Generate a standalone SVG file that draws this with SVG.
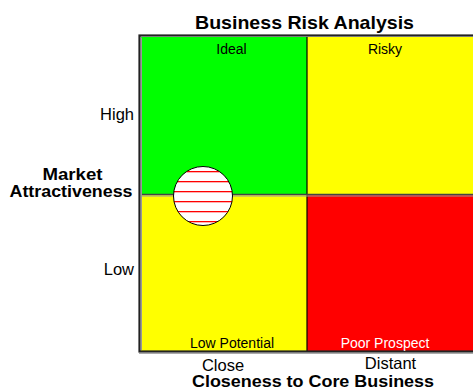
<svg xmlns="http://www.w3.org/2000/svg" width="473" height="390" viewBox="0 0 473 390">
<style>
text{font-family:"Liberation Sans",Arial,sans-serif;fill:#000}
.b{font-weight:bold}
.q{font-size:14px;text-anchor:middle}
.ax{font-size:16.5px}
.st{fill:#ff0000}
</style>
<defs>
<clipPath id="cc"><circle cx="203" cy="196" r="29.5"/></clipPath>
</defs>
<rect width="473" height="390" fill="#fff"/>
<text class="b" x="304.5" y="29" font-size="19" text-anchor="middle" textLength="219" lengthAdjust="spacingAndGlyphs">Business Risk Analysis</text>
<g id="frame">
<rect x="141" y="37" width="166" height="158" fill="#00ff00"/>
<rect x="307" y="37" width="170" height="158" fill="#ffff00"/>
<rect x="141" y="195" width="166" height="156" fill="#ffff00"/>
<rect x="307" y="195" width="170" height="156" fill="#ff0000"/>
<line x1="307" y1="37" x2="307" y2="351" stroke="#000" stroke-width="1.2"/>
<line x1="141" y1="194.5" x2="477" y2="194.5" stroke="#444" stroke-width="1.6"/>
<line x1="141" y1="196" x2="477" y2="196" stroke="#999" stroke-width="1"/>
<rect x="139.5" y="35.5" width="340" height="316" fill="none" stroke="#222" stroke-width="2.2"/>
<line x1="141.5" y1="37.5" x2="141.5" y2="350" stroke="#999" stroke-width="1"/>
<line x1="139" y1="353.5" x2="477" y2="353.5" stroke="#aaa" stroke-width="1"/>
</g>
<g id="ideal"><text class="q" x="231.5" y="54">Ideal</text></g>
<g id="risky"><text class="q" x="385" y="54">Risky</text></g>
<g id="low-potential"><text class="q" x="232" y="348">Low Potential</text></g>
<g id="poor-prospect"><text class="q" x="385" y="348" style="fill:#fff">Poor Prospect</text></g>
<g id="marker">
<circle cx="203" cy="196" r="29.5" fill="#fff"/>
<g clip-path="url(#cc)">
<rect class="st" x="170" y="171" width="66" height="1.3"/>
<rect class="st" x="170" y="181" width="66" height="1.3"/>
<rect class="st" x="170" y="191" width="66" height="1.3"/>
<rect class="st" x="170" y="201" width="66" height="1.3"/>
<rect class="st" x="170" y="211" width="66" height="1.3"/>
<rect class="st" x="170" y="221" width="66" height="1.3"/>
</g>
<circle cx="203" cy="196" r="29.5" fill="none" stroke="#000" stroke-width="1"/>
</g>
<g id="y-axis">
<text class="ax" x="134" y="120" text-anchor="end">High</text>
<text class="ax" x="134" y="275" text-anchor="end">Low</text>
<text class="b" x="72.5" y="180" font-size="16" text-anchor="middle" textLength="60" lengthAdjust="spacingAndGlyphs">Market</text>
<text class="b" x="71" y="197" font-size="16" text-anchor="middle" textLength="123" lengthAdjust="spacingAndGlyphs">Attractiveness</text>
</g>
<g id="x-axis">
<text class="ax" x="223" y="371" text-anchor="middle">Close</text>
<text class="ax" x="390.5" y="369" text-anchor="middle">Distant</text>
<text class="b" x="313" y="387" font-size="16" text-anchor="middle" textLength="242" lengthAdjust="spacingAndGlyphs">Closeness to Core Business</text>
</g>
</svg>
